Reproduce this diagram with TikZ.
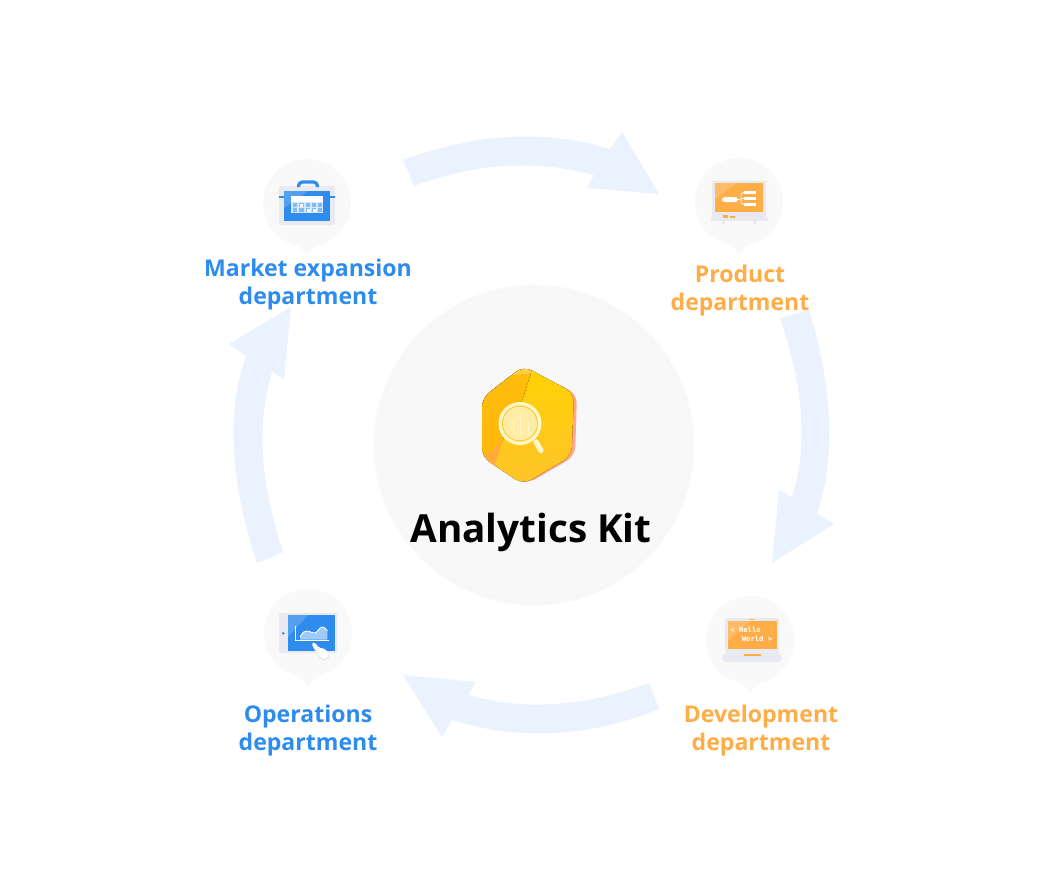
\documentclass[tikz,border=0pt]{standalone}
\usepackage{fontspec}
\setmainfont{Open Sans}[BoldFont={Open Sans Bold}]
\newfontfamily\monof{DejaVu Sans Mono Bold}
\definecolor{flow}{HTML}{E9F2FD}
\definecolor{bub}{HTML}{F9F9FA}
\definecolor{disc}{HTML}{F8F8F8}
\definecolor{bluec}{HTML}{2E8CEE}
\definecolor{orangec}{HTML}{FFAD47}
\definecolor{frame}{HTML}{E9EAF1}
\definecolor{creamc}{HTML}{FFF6C9}
\definecolor{creamd}{HTML}{FFEDA6}
\definecolor{hexa}{HTML}{FFC42B}
\definecolor{hexb}{HTML}{FFD200}
\definecolor{hexc}{HTML}{FFB60F}
\definecolor{hexd}{HTML}{FFAB3E}
\definecolor{hexback}{HTML}{FFA58A}
\tikzset{
  flowarrow/.style={fill=flow,draw=none},
  bubble/.style={fill=bub,draw=none},
  dept/.style={font=\fontsize{17.3}{21}\selectfont\bfseries,align=center,inner sep=0pt},
  blueT/.style={dept,text=bluec},
  orangeT/.style={dept,text=orangec},
  gloss/.style={fill=white,fill opacity=.18,draw=none},
  whitebar/.style={fill=white,draw=none},
  hexshape/.style={rounded corners=7pt},
}
\newcommand{\pin}[3]{%
  \fill[bubble] (#1,#2) circle (44);
  \fill[bubble] (#1-9,#2+42) -- (#1,#3) -- (#1+9,#2+42) -- cycle;
}
\begin{document}
\begin{tikzpicture}[x=0.75pt,y=-0.75pt]
\useasboundingbox (0,0) rectangle (1048,888);
\fill[white] (0,0) rectangle (1048,888);
% flow arrows
\fill[flowarrow] (403,160) .. controls (476.7,133) and (545.7,129.3) .. (610,149) -- (622,132) -- (659,194) -- (587,188) -- (594,175) .. controls (535.3,159.3) and (475.3,163) .. (414,186) -- cycle;
\fill[flowarrow] (809,310) .. controls (833,388.7) and (835.7,456.7) .. (817,514) -- (834,524) -- (772,563) -- (779,490) -- (792,497) .. controls (808,447.3) and (804,387.7) .. (780,318) -- cycle;
\fill[flowarrow] (659,709) .. controls (589.3,737.3) and (520.3,741) .. (452,720) -- (442,737) -- (403,675) -- (476,682) -- (468,695) .. controls (523.7,711) and (584,707) .. (649,683) -- cycle;
\fill[flowarrow] (257,563) .. controls (230,481.3) and (226.3,412.3) .. (246,356) -- (229,344) -- (291,307) -- (284,379) -- (272,372) .. controls (256.3,422.7) and (260,482.7) .. (283,552) -- cycle;
% centre disc
\fill[black!2] (534,445) circle (160.5);
\fill[black!3] (534,445) circle (159);
\fill[disc] (534,445) circle (157);
% hexagon icon
\fill[hexback,hexshape] (526,368) -- (577,394) -- (575,456) -- (527,484) -- (490,456) -- (490,400) -- cycle;
\begin{scope}
\clip[hexshape] (523.5,366) -- (574,393) -- (571.5,456) -- (523,484.5) -- (482,457) -- (482,398) -- cycle;
\fill[top color=hexb,bottom color=hexa,middle color=hexa!55!hexb] (470,360) rectangle (585,490);
\fill[top color=hexc!70!hexb,bottom color=hexc] (470,360) -- (535,360) -- (523,398) -- (497,452) -- (470,470) -- cycle;
\fill[hexd] (503,440) -- (493,470) -- (484,458) -- cycle;
\fill[white,fill opacity=.25] (510,372) -- (523,366) -- (535,373) -- (512,375) -- cycle;
\end{scope}
\draw[creamc,line width=4pt,line cap=round] (536,442) -- (541,450.5);
\fill[creamc] (520,423.5) circle (21.5);
\fill[hexa] (520,423.5) circle (18);
\fill[creamd] (520,423.5) circle (17);
\draw[creamc,line width=1pt,line cap=round] (513.3,420) -- (513.3,433);
\draw[creamc,line width=1pt,line cap=round] (520.7,413.5) -- (520.7,434);
\draw[creamc,line width=1pt,line cap=round] (528.7,422) -- (528.7,434);
\node (title) at (531,532) [inner sep=0pt,font=\fontsize{29}{35}\selectfont\bfseries,text=black] {Analytics Kit};
% market expansion
\pin{307}{203}{255}
\fill[frame,rounded corners=1pt] (279,186) rectangle (335,225);
\draw[bluec,line width=2.4pt,rounded corners=3pt] (298.5,187) -- (298.5,182) -- (317.5,182) -- (317.5,187);
\fill[bluec] (279,196) rectangle (335,198);
\fill[bluec] (284,191) rectangle (330,221);
\fill[gloss] (284,191) -- (308,191) -- (284,208) -- cycle;
\fill[white,fill opacity=.8] (291.3,196) rectangle (322.7,213.3);
\fill[whitebar] (291.3,196) rectangle (322.7,201.7);
\foreach \cx in {293,299.3,305.6,311.9,318.2}{
  \fill[bluec!60!white] (\cx,203) rectangle +(4.2,4);
  \fill[bluec!60!white] (\cx,208.3) rectangle +(4.2,4);
}
\fill[whitebar] (300,204) rectangle +(3,2.5);
\fill[whitebar] (306.5,209) rectangle +(3,2.5);
\fill[whitebar] (312.5,209) rectangle +(3,2.5);
\node (market) at (308,285) [blueT] {Market expansion\\department};
% product
\pin{739}{202}{254}
\fill[frame] (712,181) rectangle (766,217);
\fill[frame] (711,217) rectangle (768,221);
\fill[frame] (722,221) rectangle (725,224);
\fill[frame] (753,221) rectangle (757,224);
\fill[orangec] (715,183) rectangle (763,212);
\fill[gloss] (715,183) -- (737,183) -- (715,199) -- cycle;
\fill[orangec] (723,215) rectangle (728,218);
\fill[orangec] (730,216) rectangle (735,218);
\fill[whitebar,rounded corners=2pt] (722,197) rectangle (738,202);
\draw[white,line width=.6pt] (738,199.5) -- (744,198.5);
\draw[white,line width=.6pt] (741,198.5) .. controls (741,193) and (741,193) .. (744,192.5);
\draw[white,line width=.6pt] (741,200) .. controls (741,204) and (741,204) .. (744,204);
\fill[whitebar] (744,191) rectangle (756,194);
\fill[whitebar] (744,197) rectangle (756,200);
\fill[whitebar] (744,203) rectangle (756,205.5);
\node (product) at (740,291) [orangeT] {Product\\department};
% development
\pin{750}{640}{693}
\fill[frame,rounded corners=1pt] (725,618) rectangle (779,654);
\fill[orangec] (728,621) rectangle (777,649);
\fill[gloss] (728,621) -- (750,621) -- (728,640) -- cycle;
\fill[orangec] (750,619) rectangle (754,620);
\fill[frame,rounded corners=3pt] (722,654) -- (782,654) -- (782,662) -- (722,662) -- cycle;
\fill[orangec] (744,654) rectangle (761,656);
\node (hello) at (745.5,630) [inner sep=0pt,text=white,font=\monof\fontsize{5.4}{6}\selectfont] {< Hello};
\node (world) at (757,639) [inner sep=0pt,text=white,font=\monof\fontsize{5.4}{6}\selectfont] {World >};
\node (dev) at (761,730) [orangeT] {Development\\department};
% operations
\pin{308}{633}{687}
\fill[frame,rounded corners=1pt] (279,613) rectangle (337,653);
\fill[bluec] (288,615) rectangle (335,651);
\fill[gloss] (288,615) -- (308,615) -- (288,637) -- cycle;
\fill[bluec] (283.3,633.3) circle (1.4);
\fill[white,fill opacity=.55] (300,637) .. controls (303,632) and (304,631) .. (307,631) .. controls (311,631) and (312,634) .. (315,633) .. controls (318,632) and (319,627) .. (322.7,627) .. controls (325,627) and (326,629) .. (327.3,631) -- (327.3,639.5) -- (300,639.5) -- cycle;
\draw[white,line width=.6pt] (300,637) .. controls (303,632) and (304,631) .. (307,631) .. controls (311,631) and (312,634) .. (315,633) .. controls (318,632) and (319,627) .. (322.7,627) .. controls (325,627) and (326,629) .. (327.3,631);
\draw[white,line width=.6pt] (295.3,626) -- (295.3,640) -- (329,640);
\fill[frame,rounded corners=1.5pt] (311.5,644) -- (314,643) -- (319,649) -- (325.5,649.5) -- (329.5,655) -- (328,660) -- (320.5,660) -- (316.5,653) -- cycle;
\fill[whitebar,rounded corners=1.5pt] (312,643.5) -- (314.5,642) -- (319,648) -- (325,648.5) -- (328.5,654) -- (327,658.5) -- (321,658.5) -- (317,652) -- cycle;
\node (ops) at (308,730) [blueT] {Operations\\department};
\end{tikzpicture}
\end{document}
